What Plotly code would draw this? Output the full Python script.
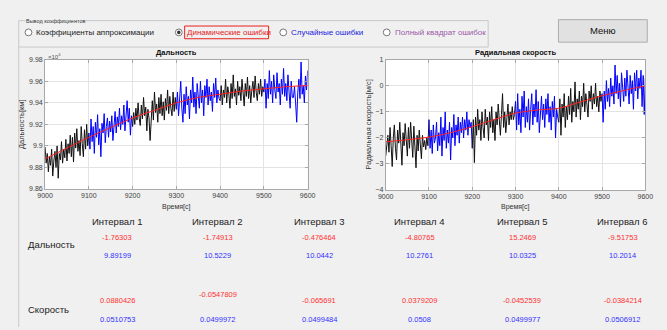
import numpy as np
import plotly.graph_objects as go

W, H = 667, 330

# ---------------- data ----------------
t_start, t_end, t_step = 9000, 9600, 2.5
interval_edges = [9000, 9100, 9200, 9300, 9400, 9500, 9600]

# Range (x10^4 km), sampled every 2.5 s
range_vals = [
    9.899, 9.884, 9.893, 9.876, 9.890, 9.882, 9.897, 9.872, 9.886, 9.895,
    9.880, 9.900, 9.870, 9.893, 9.887, 9.904, 9.884, 9.897, 9.889, 9.906,
    9.886, 9.902, 9.893, 9.910, 9.890, 9.908, 9.885, 9.912, 9.898, 9.916,
    9.895, 9.905, 9.891, 9.918, 9.902, 9.890, 9.915, 9.897, 9.920, 9.900,
    9.912, 9.897, 9.925, 9.904, 9.918, 9.893, 9.922, 9.908, 9.929, 9.901,
    9.916, 9.890, 9.921, 9.912, 9.930, 9.903, 9.918, 9.926, 9.908, 9.923,
    9.913, 9.928, 9.905, 9.919, 9.932, 9.912, 9.927, 9.918, 9.935, 9.915,
    9.928, 9.920, 9.938, 9.914, 9.930, 9.942, 9.922, 9.935, 9.910, 9.928,
    9.918, 9.931, 9.920, 9.935, 9.924, 9.940, 9.926, 9.919, 9.938, 9.925,
    9.945, 9.928, 9.936, 9.914, 9.934, 9.926, 9.905, 9.930, 9.942, 9.924,
    9.950, 9.931, 9.939, 9.922, 9.945, 9.930, 9.948, 9.928, 9.941, 9.924,
    9.944, 9.933, 9.952, 9.930, 9.946, 9.935, 9.928, 9.950, 9.932, 9.945,
    9.934, 9.950, 9.928, 9.944, 9.960, 9.935, 9.922, 9.948, 9.930, 9.955,
    9.938, 9.946, 9.925, 9.952, 9.940, 9.964, 9.936, 9.950, 9.930, 9.958,
    9.942, 9.935, 9.960, 9.940, 9.952, 9.928, 9.956, 9.945, 9.962, 9.938,
    9.955, 9.942, 9.950, 9.932, 9.958, 9.945, 9.963, 9.940, 9.952, 9.944,
    9.942, 9.956, 9.938, 9.952, 9.945, 9.962, 9.940, 9.955, 9.948, 9.935,
    9.958, 9.944, 9.966, 9.946, 9.953, 9.938, 9.960, 9.947, 9.955, 9.942,
    9.962, 9.950, 9.937, 9.958, 9.946, 9.964, 9.944, 9.956, 9.940, 9.952,
    9.960, 9.945, 9.965, 9.950, 9.942, 9.958, 9.948, 9.962, 9.946, 9.955,
    9.950, 9.962, 9.935, 9.958, 9.944, 9.970, 9.948, 9.960, 9.940, 9.966,
    9.952, 9.944, 9.968, 9.950, 9.958, 9.938, 9.962, 9.948, 9.972, 9.946,
    9.958, 9.942, 9.966, 9.950, 9.935, 9.960, 9.945, 9.945, 9.955, 9.940,
    9.922, 9.950, 9.962, 9.944, 9.978, 9.948, 9.956, 9.940, 9.965, 9.952,
    9.970,
]

# Radial velocity (m/s), sampled every 2.5 s
vel_vals = [
    -2.70, -2.20, -1.90, -2.55, -1.60, -2.30, -3.10, -2.00, -1.50, -2.40,
    -2.85, -1.70, -2.20, -1.40, -2.60, -3.05, -1.80, -2.30, -1.45, -2.10,
    -2.70, -1.60, -2.40, -1.40, -2.00, -2.75, -1.55, -2.20, -3.15, -1.90,
    -2.50, -1.70, -2.20, -2.80, -1.90, -2.35, -2.10, -2.45, -2.00, -2.30,
    -1.30, -2.40, -1.70, -2.60, -1.50, -2.20, -2.00, -1.40, -2.50, -1.80,
    -2.30, -1.20, -2.70, -1.60, -2.10, -1.00, -2.40, -1.70, -2.20, -1.40,
    -2.85, -1.60, -2.00, -1.10, -2.30, -1.50, -1.90, -1.20, -2.20, -1.40,
    -1.80, -1.20, -2.00, -1.30, -1.70, -1.00, -1.90, -1.30, -1.60, -1.40,
    -2.40, -1.30, -2.95, -1.20, -1.90, -0.90, -1.70, -1.30, -2.10, -1.00,
    -1.60, -2.00, -0.90, -1.50, -1.20, -2.10, -1.00, -1.60, -0.80, -1.80,
    -1.30, -2.10, -1.00, -1.50, -0.70, -1.40, -1.90, -1.10, -0.30, -1.60,
    -1.00, -1.80, -1.20, -0.70, -1.50, -1.00, -1.30, -0.80, -1.30, -1.10,
    -0.60, -1.70, -0.30, -1.50, -0.90, -1.80, -0.40, -1.20, -0.20, -1.60,
    -0.80, -1.40, -0.50, -1.70, -0.90, -0.30, -1.50, -0.70, -1.20, -0.15,
    -1.40, -0.60, -1.80, -0.90, -0.40, -1.30, -0.70, -1.60, -0.50, -1.10,
    -0.30, -1.40, -0.80, -1.70, -0.60, -1.20, -0.40, -2.00, -0.90, -1.20,
    -1.40, -0.50, -1.90, -0.70, -1.20, -0.30, -1.60, -0.80, -1.30, -0.40,
    -1.10, -0.10, -1.40, -0.60, -1.00, 0.15, -1.20, -0.50, -0.90, -0.20,
    -1.30, -0.40, -0.80, 0.10, -1.00, -0.30, -0.70, -1.20, -0.20, -0.60,
    0.00, -0.90, -0.30, -0.70, 0.10, -0.80, -0.40, -1.00, -0.20, -0.60,
    -0.30, -1.40, -0.20, -0.90, 0.20, -0.60, -0.10, -0.80, 0.30, -0.40,
    0.00, -0.70, 0.80, -0.30, 0.40, -0.50, 0.10, -0.80, 0.50, -0.20,
    -0.60, 0.30, -0.40, 0.60, -0.10, -0.70, 0.40, -0.30, 0.20, -0.90,
    0.50, -0.20, 0.60, -0.50, 0.30, -0.10, 0.60, -0.80, 0.40, -1.10,
    0.30,
]

trend_t = [9000, 9050, 9100, 9150, 9200, 9250, 9300, 9350, 9400, 9450, 9500, 9550, 9600]
range_trend = [9.888, 9.898, 9.908, 9.917, 9.926, 9.933, 9.940, 9.945, 9.948, 9.951, 9.953, 9.955, 9.956]
vel_trend = [-2.15, -2.07, -1.97, -1.80, -1.57, -1.30, -1.05, -0.93, -0.86, -0.62, -0.38, -0.18, 0.0]

range_ticks = [9.86, 9.88, 9.90, 9.92, 9.94, 9.96, 9.98]
range_ticktext = ["9.86", "9.88", "9.9", "9.92", "9.94", "9.96", "9.98"]
vel_ticks = [-4, -3, -2, -1, 0, 1]
time_ticks = [9000, 9100, 9200, 9300, 9400, 9500, 9600]

interval_names = ["Интервал 1", "Интервал 2", "Интервал 3", "Интервал 4", "Интервал 5", "Интервал 6"]
range_dyn = ["-1.76303", "-1.74913", "-0.476464", "-4.80765", "15.2469", "-9.51753"]
range_rnd = ["9.89199", "10.5229", "10.0442", "10.2761", "10.0325", "10.2014"]
vel_dyn = ["0.0880426", "-0.0547809", "-0.065691", "0.0379209", "-0.0452539", "-0.0384214"]
vel_rnd = ["0.0510753", "0.0499972", "0.0499484", "0.0508", "0.0499977", "0.0506912"]

radio_labels = ["Коэффициенты аппроксимации", "Динамические ошибки", "Случайные ошибки", "Полный квадрат ошибок"]

# ---------------- helpers ----------------
def px(x):
    return x / W

def py(y):
    return 1 - y / H

FONT = "Liberation Sans, Arial, sans-serif"
annotations = []
shapes = []

def ann(x, y, text, size, color="#222222", xanchor="center", angle=0, bg=None):
    d = dict(x=px(x), y=py(y), xref="paper", yref="paper", text=text, showarrow=False,
             xanchor=xanchor, yanchor="middle", textangle=angle,
             font=dict(family=FONT, size=size, color=color))
    if bg:
        d["bgcolor"] = bg
        d["borderpad"] = 0
    annotations.append(d)

times = np.arange(t_start, t_end + 0.01, t_step)
n_per = int(round(100 / t_step))

fig = go.Figure()
colors = ["#111111", "#0000ff"]
for k in range(6):
    sl = slice(k * n_per, (k + 1) * n_per + 1)
    fig.add_trace(go.Scatter(x=times[sl], y=range_vals[sl], mode="lines",
                             line=dict(color=colors[k % 2], width=1), xaxis="x", yaxis="y",
                             showlegend=False, hoverinfo="skip"))
    fig.add_trace(go.Scatter(x=times[sl], y=vel_vals[sl], mode="lines",
                             line=dict(color=colors[k % 2], width=1), xaxis="x2", yaxis="y2",
                             showlegend=False, hoverinfo="skip"))
fig.add_trace(go.Scatter(x=trend_t, y=range_trend, mode="lines", line=dict(color="#ff2020", width=1, shape="spline"),
                         xaxis="x", yaxis="y", showlegend=False, hoverinfo="skip"))
fig.add_trace(go.Scatter(x=trend_t, y=vel_trend, mode="lines", line=dict(color="#ff2020", width=1, shape="spline"),
                         xaxis="x2", yaxis="y2", showlegend=False, hoverinfo="skip"))

ax_common = dict(showgrid=True, gridcolor="#e3e3e3", gridwidth=1, showline=True, linecolor="#a8a8a8",
                 linewidth=1, mirror="ticks", ticks="inside", ticklen=3, tickcolor="#a8a8a8",
                 tickfont=dict(family=FONT, size=7, color="#404040"), zeroline=False, fixedrange=True)

# plot box positions (pixels)
L1, R1, T1, B1 = 38, 307, 57, 189
L2, R2, T2, B2 = 387, 653, 57, 190

fig.update_layout(
    width=W, height=H, margin=dict(l=0, r=0, t=0, b=0),
    paper_bgcolor="#f0f0f0", plot_bgcolor="#ffffff",
    xaxis=dict(domain=[px(L1), px(R1)], range=[9000, 9600], tickvals=time_ticks, anchor="y", **ax_common),
    yaxis=dict(domain=[py(B1), py(T1)], range=[9.86, 9.98], tickvals=range_ticks, ticktext=range_ticktext,
               anchor="x", **ax_common),
    xaxis2=dict(domain=[px(L2), px(R2)], range=[9000, 9600], tickvals=time_ticks, anchor="y2", **ax_common),
    yaxis2=dict(domain=[py(B2), py(T2)], range=[-4, 1], tickvals=vel_ticks, anchor="x2", **ax_common),
)

# plot texts
ann((L1 + R1) / 2, 50, "<b>Дальность</b>", 7.5, "#111111")
ann((L2 + R2) / 2, 50, "<b>Радиальная скорость</b>", 7.5, "#111111")
ann(39, 53, "×10<sup>4</sup>", 6, "#555555", xanchor="left")
ann((L1 + R1) / 2, 207, "Время[с]", 7, "#333333")
ann((L2 + R2) / 2, 207, "Время[с]", 7, "#333333")
ann(14, 123, "Дальность[км]", 7.5, "#333333", angle=-90)
ann(369, 123, "Радиальная скорость[м/с]", 7.5, "#333333", angle=-90)

# panel border lines
shapes.append(dict(type="line", xref="paper", yref="paper", x0=px(11), x1=px(11), y0=py(44), y1=0,
                   line=dict(color="#c8c8c8", width=1)))
# group box
shapes.append(dict(type="rect", xref="paper", yref="paper", x0=px(11), x1=px(492), y0=py(44), y1=py(17),
                   line=dict(color="#c8c8c8", width=1)))
ann(17, 17, "Вывод коэффициентов", 5.5, "#333333", xanchor="left", bg="#f0f0f0")

# radio buttons
radio_x = [21, 175, 282, 388]
radio_colors = ["#222222", "#e8201c", "#2020e0", "#9a5aa8"]
ry = 29
for i, (rx, lab, c) in enumerate(zip(radio_x, radio_labels, radio_colors)):
    shapes.append(dict(type="circle", xref="paper", yref="paper", x0=px(rx - 3.5), x1=px(rx + 3.5),
                       y0=py(ry + 3.5), y1=py(ry - 3.5), line=dict(color="#777777", width=1),
                       fillcolor="#ffffff"))
    if i == 1:
        shapes.append(dict(type="circle", xref="paper", yref="paper", x0=px(rx - 1.8), x1=px(rx + 1.8),
                           y0=py(ry + 1.8), y1=py(ry - 1.8), line=dict(color="#333333", width=0),
                           fillcolor="#333333"))
    ann(rx + 6, ry, lab, 8, c, xanchor="left")
# red focus box around selected label
shapes.append(dict(type="rect", xref="paper", yref="paper", x0=px(181), x1=px(267), y0=py(35.5), y1=py(22.5),
                   line=dict(color="#e8201c", width=1)))

# menu button
shapes.append(dict(type="rect", xref="paper", yref="paper", x0=px(564), x1=px(655), y0=py(39), y1=py(16),
                   line=dict(color="#adadad", width=1), fillcolor="#e1e1e1"))
ann(609.5, 27.5, "Меню", 9.5, "#111111")

# table
col_x = [112, 215, 319, 422, 527, 630]
for i in range(6):
    ann(col_x[i], 222, interval_names[i], 9.5, "#222222")
    ann(col_x[i], 239, range_dyn[i], 7.5, "#ff3030")
    ann(col_x[i], 257, range_rnd[i], 7.5, "#3030ff")
    ann(col_x[i], 297 if i == 1 else 303, vel_dyn[i], 7.5, "#ff3030")
    ann(col_x[i], 322, vel_rnd[i], 7.5, "#3030ff")
ann(18, 246, "Дальность", 9.5, "#222222", xanchor="left")
ann(18, 312, "Скорость", 9.5, "#222222", xanchor="left")

fig.update_layout(annotations=annotations, shapes=shapes)
fig.write_html("out.html", config={"displayModeBar": False},
               post_script="document.body.style.margin='0';document.body.style.padding='0';")
